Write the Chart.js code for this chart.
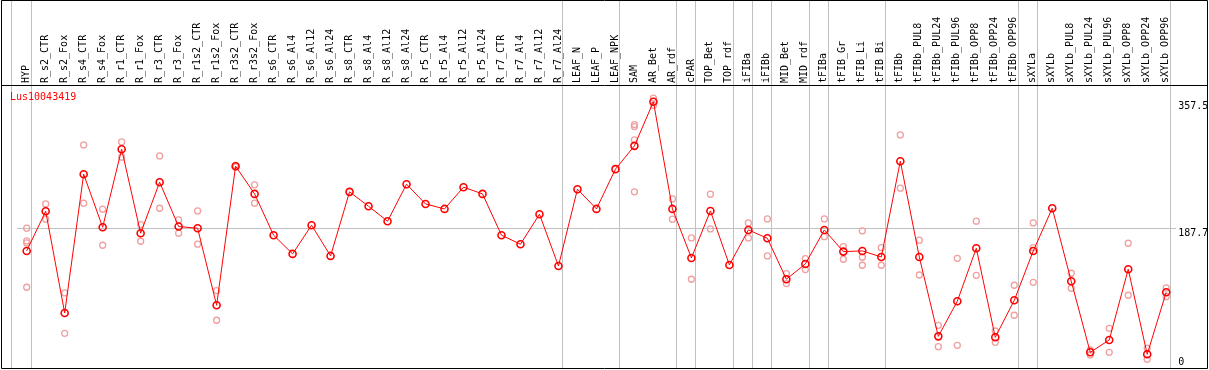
<!DOCTYPE html>
<html>
<head>
<meta charset="utf-8">
<script src="https://cdn.jsdelivr.net/npm/chart.js@4.4.1/dist/chart.umd.min.js"></script>
<style>
  html, body { margin: 0; padding: 0; background: #fff; }
</style>
</head>
<body>
<canvas id="chart" width="1209" height="370"></canvas>
<script>
// sample names along the top
const categories = [
  "HYP", "R_s2_CTR", "R_s2_Fox", "R_s4_CTR", "R_s4_Fox", "R_r1_CTR", "R_r1_Fox",
  "R_r3_CTR", "R_r3_Fox", "R_r1s2_CTR", "R_r1s2_Fox", "R_r3s2_CTR", "R_r3s2_Fox",
  "R_s6_CTR", "R_s6_Al4", "R_s6_Al12", "R_s6_Al24", "R_s8_CTR", "R_s8_Al4",
  "R_s8_Al12", "R_s8_Al24", "R_r5_CTR", "R_r5_Al4", "R_r5_Al12", "R_r5_Al24",
  "R_r7_CTR", "R_r7_Al4", "R_r7_Al12", "R_r7_Al24", "LEAF_N", "LEAF_P", "LEAF_NPK",
  "SAM", "AR_Bet", "AR_rdf", "cPAR", "TOP_Bet", "TOP_rdf", "iFIBa", "iFIBb",
  "MID_Bet", "MID_rdf", "tFIBa", "tFIB_Gr", "tFIB_Li", "tFIB_Bi", "tFIBb",
  "tFIBb_PUL8", "tFIBb_PUL24", "tFIBb_PUL96", "tFIBb_OPP8", "tFIBb_OPP24",
  "tFIBb_OPP96", "sXYLa", "sXYLb", "sXYLb_PUL8", "sXYLb_PUL24", "sXYLb_PUL96",
  "sXYLb_OPP8", "sXYLb_OPP24", "sXYLb_OPP96"
];

// mean expression (red line)
const means = [
  157.2, 210.5, 73.9, 260.2, 189.0, 293.8, 181.0, 249.5, 189.9, 187.7, 84.2, 271.0, 233.8,
  178.3, 153.2, 191.7, 150.5, 236.5, 217.2, 197.1, 246.8, 220.3, 213.6, 242.8, 233.8,
  178.3, 166.2, 206.5, 137.0, 240.1, 213.6, 267.0,
  298.3, 357.5, 213.6, 147.8, 210.9, 138.4, 185.4, 174.2, 119.2, 139.7,
  185.4, 156.3, 157.2, 149.1, 277.7, 149.1, 42.5, 89.6, 160.8, 41.2, 90.9,
  157.2, 214.5, 116.5, 21.1, 37.6, 132.6, 18.4, 101.7
];

// single replicates (pink circles)
const rep1 = [
  187.7, 220.3, 100.8, 299.6, 213.2, 303.6, 192.6, 284.8, 198.8, 210.9, 103.9, 272.0, 245.9,
  null, null, null, null, null, null, null, null, null, null, null, null,
  null, null, null, null, null, null, null,
  326.9, 362.3, 227.0, 174.7, 233.4, null, 194.8, 200.2, 126.7, 146.9,
  200.2, 163.0, 184.1, 161.6, 313.0, 171.6, 57.3, 147.3, 197.1, 49.7, 111.1,
  194.8, null, 127.2, 24.2, 53.3, 167.5, 26.5, 107.5
];
const rep2 = [
  170.6, 199.8, 46.6, 221.3, 164.8, 283.1, 170.2, 214.5, 181.0, 166.2, 64.1, 270.0, 221.3,
  null, null, null, null, null, null, null, null, null, null, null, null,
  null, null, null, null, null, null, null,
  324.2, 352.7, 199.8, 119.2, 186.8, null, 174.7, 150.5, 113.3, 132.1,
  176.4, 146.0, 148.7, 138.0, 241.4, 124.9, 28.7, 30.4, 124.5, 34.5, 70.8,
  161.6, null, 107.1, 17.5, 21.1, 97.7, 11.7, 95.8
];
const rep3 = [
  168.0, null, null, null, null, null, null, null, null, null, null, null, null,
  null, null, null, null, null, null, null, null, null, null, null, null,
  null, null, null, null, null, null, null,
  306.3, null, null, null, null, null, null, null, null, null,
  null, null, 138.0, null, null, null, null, null, null, null, null,
  115.1, null, null, null, null, null, null, null
];
const rep4 = [
  108.4, null, null, null, null, null, null, null, null, null, null, null, null,
  null, null, null, null, null, null, null, null, null, null, null, null,
  null, null, null, null, null, null, null,
  236.5, null, null, null, null, null, null, null, null, null,
  null, null, null, null, null, null, null, null, null, null, null,
  null, null, null, null, null, null, null, null
];

const yTicks = [0, 187.7, 357.5];
const groupEnds = [0, 28, 31, 34, 35, 37, 38, 39, 41, 42, 45, 52, 53, 60];
const geneName = "Lus10043419";

const monoFont = "DejaVu Sans Mono";
const pink = "#f0a0a0";

const framePlugin = {
  id: "framePlugin",
  beforeDatasetsDraw(chart) {
    const ctx = chart.ctx;
    const x = chart.scales.x;
    const bottom = chart.chartArea.bottom;
    ctx.save();
    ctx.strokeStyle = "#c0c0c0";
    ctx.lineWidth = 1;
    const xs = [x.getPixelForValue(0) - 16].concat(groupEnds.map(i => x.getPixelForValue(i) + 4));
    xs.forEach(px => {
      const p = Math.round(px) + 0.5;
      ctx.beginPath();
      ctx.moveTo(p, 0);
      ctx.lineTo(p, bottom);
      ctx.stroke();
    });
    ctx.restore();
  },
  afterDraw(chart) {
    const ctx = chart.ctx;
    const area = chart.chartArea;
    const y = chart.scales.y;
    ctx.save();
    // frame
    ctx.strokeStyle = "#000";
    ctx.lineWidth = 1;
    ctx.beginPath();
    ctx.moveTo(1.5, 0.5); ctx.lineTo(1207.5, 0.5);
    ctx.moveTo(1.5, 0.5); ctx.lineTo(1.5, area.bottom + 0.5);
    ctx.moveTo(1207.5, 0.5); ctx.lineTo(1207.5, area.bottom + 0.5);
    ctx.moveTo(1.5, Math.round(area.top) + 0.5); ctx.lineTo(1207.5, Math.round(area.top) + 0.5);
    ctx.moveTo(1.5, Math.round(area.bottom) + 0.5); ctx.lineTo(1207.5, Math.round(area.bottom) + 0.5);
    ctx.stroke();
    // y labels
    ctx.font = "10px '" + monoFont + "'";
    ctx.fillStyle = "#000";
    ctx.textAlign = "left";
    ctx.textBaseline = "middle";
    yTicks.forEach(v => {
      const py = Math.min(y.getPixelForValue(v) + 5, area.bottom - 6);
      ctx.fillText(String(v), area.right + 2.5, py);
    });
    // gene name
    ctx.fillStyle = "#ff0000";
    ctx.fillText(geneName, 10, area.top + 12);
    ctx.restore();
  }
};

const repSet = (vals) => ({
  data: vals,
  showLine: false,
  borderColor: pink,
  pointBorderColor: pink,
  pointBackgroundColor: "rgba(0,0,0,0)",
  pointRadius: 3,
  pointBorderWidth: 1.3,
  order: 1
});

new Chart(document.getElementById("chart"), {
  type: "line",
  data: {
    labels: categories,
    datasets: [
      {
        data: means,
        borderColor: "#ff0000",
        borderWidth: 1,
        pointBorderColor: "#ff0000",
        pointBackgroundColor: "rgba(0,0,0,0)",
        pointRadius: 3.5,
        pointBorderWidth: 1.6,
        tension: 0,
        order: 0
      },
      repSet(rep1), repSet(rep2), repSet(rep3), repSet(rep4)
    ]
  },
  options: {
    responsive: false,
    animation: false,
    devicePixelRatio: 1,
    layout: { autoPadding: false, padding: { left: 17.2, right: 0, top: 0, bottom: 2 } },
    plugins: { legend: { display: false }, tooltip: { enabled: false }, title: { display: false } },
    scales: {
      x: {
        type: "category",
        position: "top",
        offset: true,
        grid: { display: false, drawTicks: false },
        border: { display: false },
        ticks: {
          autoSkip: false,
          minRotation: 90,
          maxRotation: 90,
          padding: 2,
          labelOffset: 11.5,
          color: "#000",
          font: { family: monoFont, size: 10 }
        },
        afterFit(scale) { scale.height = 85; }
      },
      y: {
        position: "right",
        min: 0,
        max: 380,
        border: { display: false },
        grid: {
          drawTicks: false,
          color: (c) => (c.tick && c.tick.value === 187.7 ? "#c0c0c0" : "rgba(0,0,0,0)")
        },
        ticks: { display: false },
        afterBuildTicks(scale) { scale.ticks = yTicks.map(v => ({ value: v })); },
        afterFit(scale) { scale.width = 33.3; }
      }
    }
  },
  plugins: [framePlugin]
});
</script>
</body>
</html>
